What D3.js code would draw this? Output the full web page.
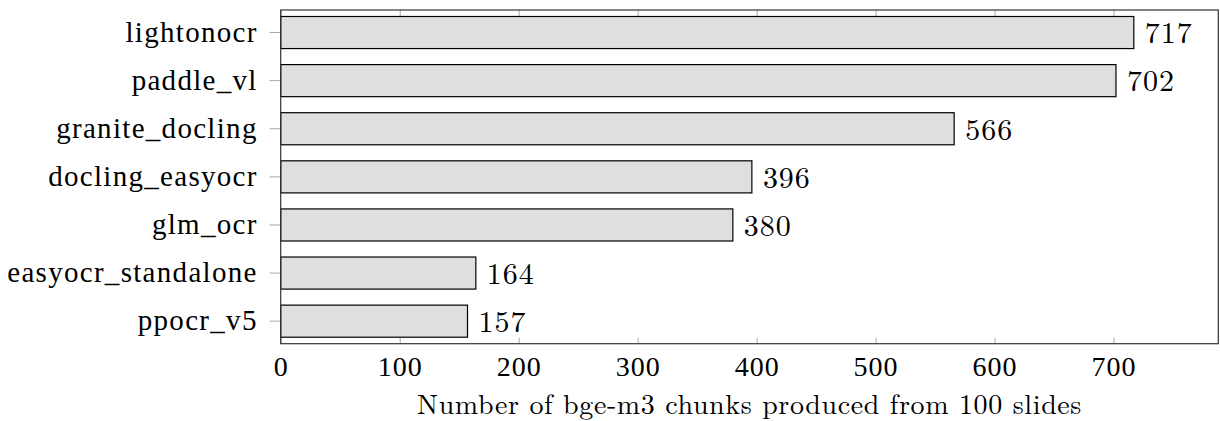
<!DOCTYPE html>
<html>
<head>
<meta charset="utf-8">
<script src="https://cdn.jsdelivr.net/npm/d3@7"></script>
<style>
  body { margin: 0; background: #fff; }
  svg text { font-family: "Latin Modern Roman", "CMU Serif", "Liberation Serif", serif; fill: #000; }
</style>
</head>
<body>
<script>
// values
const models = ['lightonocr', 'paddle_vl', 'granite_docling', 'docling_easyocr', 'glm_ocr', 'easyocr_standalone', 'ppocr_v5'];
const chunks = [717, 702, 566, 396, 380, 164, 157];
const xTicks = [0, 100, 200, 300, 400, 500, 600, 700];
const xLabel = 'Number of bge-m3 chunks produced from 100 slides';

const W = 1220, H = 421;
const plot = {left: 280.7, right: 1218.3, top: 10, bottom: 343.7};
const fs = 28;

const svg = d3.select('body').append('svg')
    .attr('width', W)
    .attr('height', H);

const x = d3.scaleLinear()
    .domain([0, 788])
    .range([plot.left, plot.right]);

const y = d3.scaleBand()
    .domain(models)
    .range([plot.top, plot.bottom])
    .paddingInner(1/3)
    .paddingOuter(0.135);

// ticks go under the bars, like pgfplots does it
const gBottom = svg.append('g')
    .attr('transform', `translate(0,${plot.bottom})`)
    .call(d3.axisBottom(x).tickValues(xTicks).tickSizeInner(-6).tickSizeOuter(0).tickPadding(12));
const gTop = svg.append('g')
    .attr('transform', `translate(0,${plot.top})`)
    .call(d3.axisTop(x).tickValues(xTicks).tickSizeInner(-6).tickSizeOuter(0).tickFormat(''));
const gLeft = svg.append('g')
    .attr('transform', `translate(${plot.left},0)`)
    .call(d3.axisLeft(y).tickSizeInner(11).tickSizeOuter(0).tickPadding(12));

[gBottom, gTop, gLeft].forEach(g => {
    g.select('.domain').remove();
    g.selectAll('.tick line').attr('stroke', '#a8a8a8').attr('stroke-width', 1);
    g.selectAll('.tick text')
        .style('font-family', '"Liberation Serif", serif')
        .attr('font-size', fs)
        .attr('letter-spacing', 1)
        .attr('fill', '#000');
});
gBottom.selectAll('.tick text').attr('dy', '0.71em');
gLeft.selectAll('.tick text')
    .attr('font-size', fs + 1)
    .attr('letter-spacing', 1.3);

// bars
svg.append('g').selectAll('rect')
    .data(models)
    .join('rect')
    .attr('x', x(0))
    .attr('y', d => y(d))
    .attr('width', (d, i) => x(chunks[i]) - x(0))
    .attr('height', y.bandwidth())
    .attr('fill', '#dfdfdf')
    .attr('stroke', '#000')
    .attr('stroke-width', 1.2);

// value labels
svg.append('g').selectAll('text')
    .data(models)
    .join('text')
    .attr('x', (d, i) => x(chunks[i]) + 11)
    .attr('y', d => y(d) + y.bandwidth() / 2)
    .attr('dy', '0.36em')
    .attr('font-size', fs + 2)
    .attr('letter-spacing', 1)
    .text((d, i) => chunks[i]);

// frame
svg.append('rect')
    .attr('x', plot.left)
    .attr('y', plot.top)
    .attr('width', plot.right - plot.left)
    .attr('height', plot.bottom - plot.top)
    .attr('fill', 'none')
    .attr('stroke', '#333')
    .attr('stroke-width', 1.2);

// axis title, centred under the frame
svg.append('text')
    .attr('x', (plot.left + plot.right) / 2)
    .attr('y', 414)
    .attr('text-anchor', 'middle')
    .attr('font-size', fs)
    .attr('letter-spacing', 0.6)
    .text(xLabel);
</script>
</body>
</html>
